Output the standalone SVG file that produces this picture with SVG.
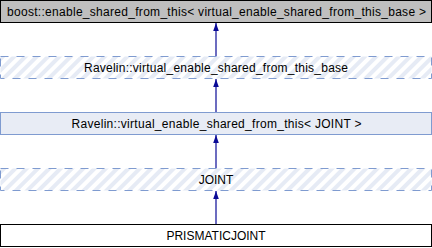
<svg xmlns="http://www.w3.org/2000/svg" width="432" height="248" viewBox="0 0 432 248">
  <style>
    .lbl { font-family: "Liberation Sans", Arial, sans-serif; font-size: 12px; fill: #000; text-anchor: middle; }
    .ext { fill: #bfbfbf; stroke: #000; stroke-width: 1; }
    .cls { fill: #e8ecf5; stroke: #7f9bd0; stroke-width: 1; }
    .virt { fill: url(#hatch); stroke: #7f9bd0; stroke-width: 1; stroke-dasharray: 8 8; }
    .self { fill: #fff; stroke: #000; stroke-width: 1; }
    .edge { stroke: #0a0a96; stroke-width: 1.2; fill: none; marker-end: url(#head); }
  </style>
  <defs>
    <pattern id="hatch" patternUnits="userSpaceOnUse" width="8" height="8" patternTransform="rotate(45)">
      <rect width="8" height="8" fill="#fff"/>
      <rect width="4" height="8" fill="#e6ebf5"/>
    </pattern>
    <marker id="head" viewBox="0 0 8 8" refX="8" refY="4" markerWidth="8" markerHeight="8" markerUnits="userSpaceOnUse" orient="auto">
      <path d="M0,1.2 L8,4 L0,6.8 Z" fill="#0a0a96"/>
    </marker>
  </defs>

  <g id="connectors">
    <line class="edge" x1="216" y1="56" x2="216" y2="23"/>
    <line class="edge" x1="216" y1="112" x2="216" y2="79"/>
    <line class="edge" x1="216" y1="168" x2="216" y2="135"/>
    <line class="edge" x1="216" y1="224" x2="216" y2="191"/>
  </g>

  <g id="boost_enable_shared_from_this">
    <rect class="ext" x="0.5" y="0.5" width="431" height="22"/>
    <text class="lbl" x="216.5" y="15.5" textLength="419" lengthAdjust="spacing">boost::enable_shared_from_this&lt; virtual_enable_shared_from_this_base &gt;</text>
  </g>

  <g id="virtual_enable_shared_from_this_base">
    <rect class="virt" x="0.5" y="56.5" width="431" height="22"/>
    <text class="lbl" x="216" y="71.5" textLength="264" lengthAdjust="spacing">Ravelin::virtual_enable_shared_from_this_base</text>
  </g>

  <g id="virtual_enable_shared_from_this_JOINT">
    <rect class="cls" x="0.5" y="112.5" width="431" height="22"/>
    <text class="lbl" x="216.5" y="127.5" textLength="290" lengthAdjust="spacing">Ravelin::virtual_enable_shared_from_this&lt; JOINT &gt;</text>
  </g>

  <g id="JOINT">
    <rect class="virt" x="0.5" y="168.5" width="431" height="22"/>
    <text class="lbl" x="216" y="183.5">JOINT</text>
  </g>

  <g id="PRISMATICJOINT">
    <rect class="self" x="0.5" y="224.5" width="431" height="22"/>
    <text class="lbl" x="216" y="239.5">PRISMATICJOINT</text>
  </g>
</svg>
